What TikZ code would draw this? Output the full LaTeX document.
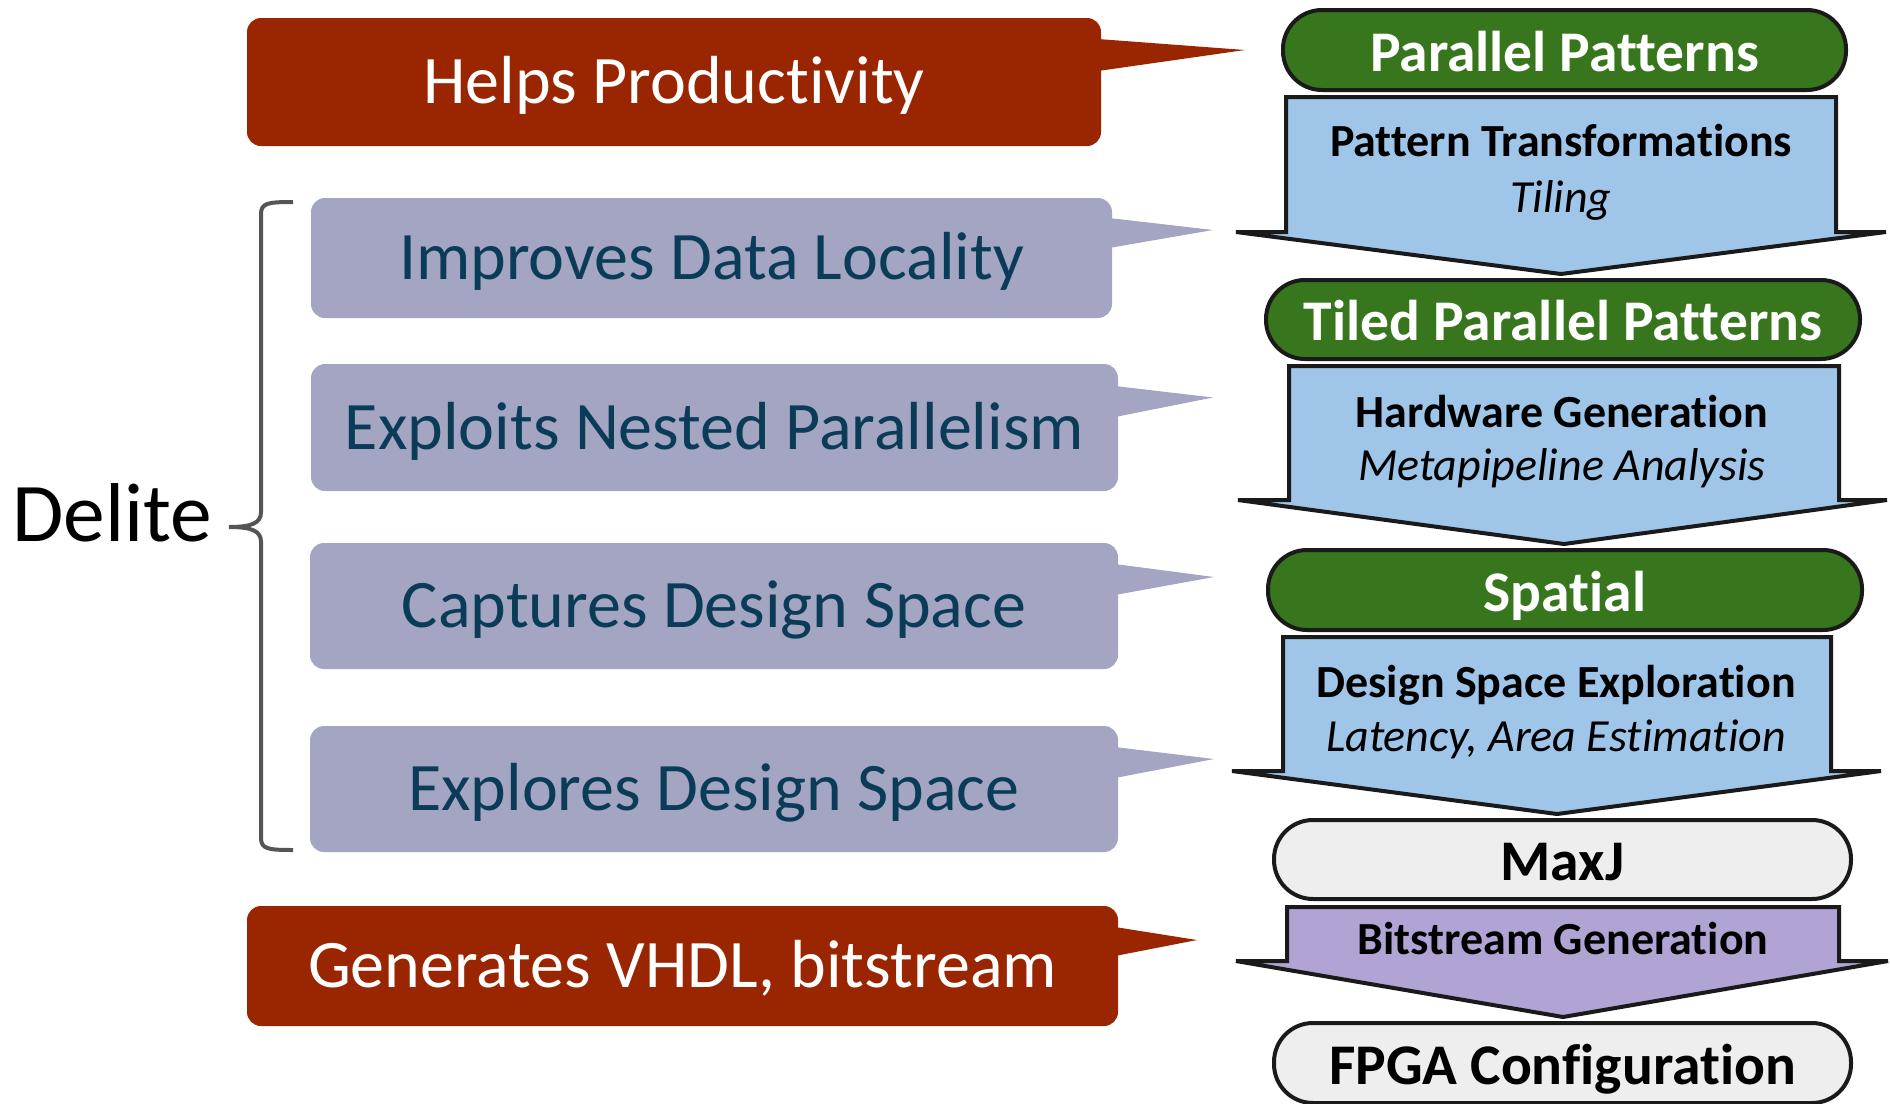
\documentclass[tikz,border=0pt]{standalone}
\usepackage{fontspec}
\setmainfont{Carlito}[Ligatures={NoCommon}]
\usetikzlibrary{calc}

\definecolor{prodRed}{HTML}{992600}
\definecolor{benefitLav}{HTML}{A3A5C3}
\definecolor{benefitInk}{HTML}{0A3C57}
\definecolor{irGreen}{HTML}{38761D}
\definecolor{passBlue}{HTML}{9FC5E8}
\definecolor{passPurple}{HTML}{B1A4D4}
\definecolor{outGray}{HTML}{EEEEEE}
\definecolor{edgeInk}{HTML}{1A1A1A}
\definecolor{braceInk}{HTML}{555555}

\tikzset{
  benefit/.style={rounded corners=14pt, inner sep=0pt, outer sep=0pt,
    text height=43.5pt, text depth=0pt, font=\fontsize{68}{74}\selectfont},
  redbox/.style={benefit, fill=prodRed, text=white},
  lavbox/.style={benefit, fill=benefitLav, text=benefitInk},
  irpill/.style={draw=edgeInk, line width=4pt, rounded corners=39pt,
    inner sep=0pt, outer sep=0pt, minimum height=80pt,
    text height=42pt, text depth=0pt, font=\bfseries\fontsize{57.5}{62}\selectfont},
  greenpill/.style={irpill, fill=irGreen, text=white},
  graypill/.style={irpill, fill=outGray, text=black},
  passarrow/.style={draw=edgeInk, line width=4pt, line join=miter},
  passtitle/.style={inner sep=0pt, anchor=base, font=\bfseries\fontsize{46}{50}\selectfont},
  passnote/.style={inner sep=0pt, anchor=base, font=\itshape\fontsize{46}{50}\selectfont},
}

\begin{document}
\begin{tikzpicture}[x=1pt,y=-1pt]
\useasboundingbox (0,0) rectangle (1890,1103);

% ---- benefit boxes on the left ----
\node[redbox, minimum width=854pt, minimum height=128pt] (hp) at (674,82) {Helps Productivity};
\node[lavbox, minimum width=801pt, minimum height=120pt] (dl) at (711.5,258) {Improves Data Locality};
\node[lavbox, minimum width=807pt, minimum height=127pt] (np) at (714.5,427.5) {Exploits Nested Parallelism};
\node[lavbox, minimum width=808pt, minimum height=126pt] (cd) at (714,606) {Captures Design Space};
\node[lavbox, minimum width=808pt, minimum height=126pt] (ed) at (714,789) {Explores Design Space};
\node[redbox, minimum width=871pt, minimum height=120pt] (gv) at (682.5,966) {Generates VHDL, bitstream};

% pointer tips
\coordinate (hpTip) at (1245,50);
\coordinate (dlTip) at (1213,230);
\coordinate (npTip) at (1213,397.5);
\coordinate (cdTip) at (1214,577);
\coordinate (edTip) at (1214,759);
\coordinate (gvTip) at (1197,940);

\fill[prodRed] ([xshift=-3pt,yshift=-21pt]hp.north east) -- (hpTip) -- ([xshift=-3pt,yshift=-53pt]hp.north east) -- cycle;
\fill[benefitLav] ([xshift=-3pt,yshift=-20pt]dl.north east) -- (dlTip) -- ([xshift=-3pt,yshift=-50pt]dl.north east) -- cycle;
\fill[benefitLav] ([xshift=-3pt,yshift=-22pt]np.north east) -- (npTip) -- ([xshift=-3pt,yshift=-53pt]np.north east) -- cycle;
\fill[benefitLav] ([xshift=-3pt,yshift=-21pt]cd.north east) -- (cdTip) -- ([xshift=-3pt,yshift=-52pt]cd.north east) -- cycle;
\fill[benefitLav] ([xshift=-3pt,yshift=-21pt]ed.north east) -- (edTip) -- ([xshift=-3pt,yshift=-52pt]ed.north east) -- cycle;
\fill[prodRed] ([xshift=-3pt,yshift=-21pt]gv.north east) -- (gvTip) -- ([xshift=-3pt,yshift=-50pt]gv.north east) -- cycle;

% ---- Delite brace ----
\node[inner sep=0pt, anchor=base, font=\fontsize{83.5}{90}\selectfont] (delite) at (112.5,541) {Delite};
\draw[braceInk, line width=4pt] (293,202) .. controls (268,202) and (261,203) .. (261,214)
  -- (261,512) .. controls (261,523) and (252,527) .. (229,527)
  .. controls (252,527) and (261,531) .. (261,542)
  -- (261,838) .. controls (261,849) and (268,850) .. (293,850);

% ---- compiler passes (block arrows) ----
\draw[passarrow, fill=passBlue] (1286,97) -- (1836,97) -- (1836,232) -- (1886,232) -- (1561,274) -- (1236,232) -- (1286,232) -- cycle;
\draw[passarrow, fill=passBlue] (1289,366) -- (1839,366) -- (1839,500) -- (1887,500) -- (1564,544) -- (1238,500) -- (1289,500) -- cycle;
\draw[passarrow, fill=passBlue] (1283,637) -- (1831,637) -- (1831,771) -- (1881,771) -- (1557,814) -- (1232,771) -- (1283,771) -- cycle;
\draw[passarrow, fill=passPurple] (1287,907) -- (1839,907) -- (1839,961) -- (1888,961) -- (1563,1017) -- (1236,961) -- (1287,961) -- cycle;

\node[passtitle] (ptT) at (1561,156) {Pattern Transformations};
\node[passnote]  (ptN) at (1561,212) {Tiling};
\node[passtitle] (hgT) at (1562,427) {Hardware Generation};
\node[passnote]  (hgN) at (1562,480) {Metapipeline Analysis};
\node[passtitle] (dsT) at (1556,697) {Design Space Exploration};
\node[passnote]  (dsN) at (1556,751) {Latency, Area Estimation};
\node[passtitle] (bgT) at (1563,954) {Bitstream Generation};

% ---- intermediate representations ----
\node[greenpill, minimum width=563pt] (pp) at (1564.5,50) {Parallel Patterns};
\node[greenpill, minimum width=594pt, minimum height=79pt] (tpp) at (1563,319.5) {Tiled Parallel Patterns};
\node[greenpill, minimum width=594pt] (sp) at (1565,590) {Spatial};
\node[graypill, minimum width=577pt, minimum height=79pt] (mj) at (1562.5,859.5) {MaxJ};
\node[graypill, minimum width=577pt] (fpga) at (1562.5,1063) {FPGA Configuration};
\end{tikzpicture}
\end{document}
